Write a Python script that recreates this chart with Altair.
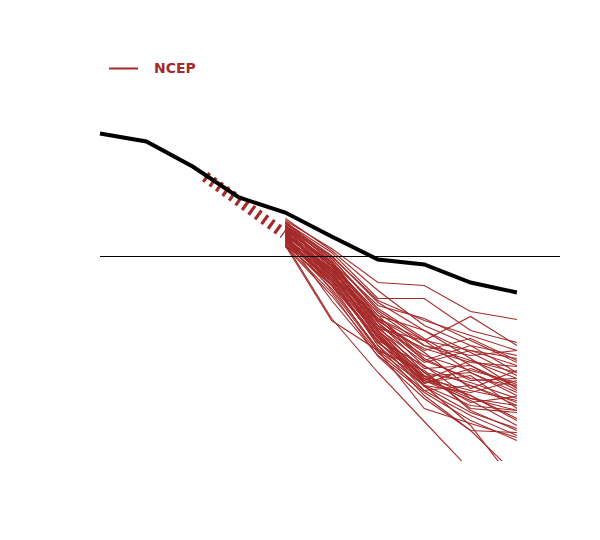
import altair as alt
import pandas as pd

# time steps (days)
obs_x = [0, 1, 2, 3, 4, 5, 6, 7, 8, 9]
obs_y = [12.3, 11.5, 9.0, 5.9, 4.4, 2.0, -0.3, -0.8, -2.6, -3.6]

# thick dashed hindcast segment
dash_x = [2.27, 3.97]
dash_y = [8.0, 2.3]

# ensemble forecast members (values at steps 4..9)
member_x = [4, 5, 6, 7, 8, 9]
members = [
    [3.6, 0.8, -2.6, -2.9, -5.5, -6.3],
    [3.4, 0.4, -4.2, -4.2, -7.4, -8.6],
    [3.1, 0.0, -4.4, -6.4, -7.9, -9.4],
    [3.8, 0.6, -3.4, -6.9, -8.9, -9.9],
    [2.6, -0.6, -4.9, -6.2, -8.4, -10.6],
    [3.0, -0.2, -5.4, -8.4, -6.0, -8.9],
    [2.4, -0.9, -5.9, -7.4, -9.6, -11.9],
    [2.1, -1.4, -6.2, -8.9, -10.4, -12.2],
    [2.8, -0.6, -6.4, -9.4, -8.2, -10.4],
    [1.8, -1.6, -6.9, -9.9, -11.4, -12.6],
    [1.6, -1.2, -6.6, -10.4, -12.2, -12.9],
    [2.3, -1.9, -7.4, -11.2, -10.9, -13.4],
    [3.2, -1.0, -7.2, -8.4, -11.6, -13.9],
    [1.4, -2.4, -7.9, -11.6, -12.6, -14.2],
    [2.0, -2.0, -7.6, -12.4, -10.4, -11.6],
    [2.7, -1.4, -8.2, -12.2, -13.4, -14.4],
    [1.2, -2.9, -8.4, -10.9, -14.2, -14.9],
    [2.5, -1.6, -7.9, -12.6, -11.9, -15.2],
    [1.8, -2.2, -8.9, -12.9, -14.9, -15.4],
    [2.9, -1.2, -7.4, -11.9, -13.9, -16.2],
    [1.5, -2.6, -8.6, -12.4, -14.4, -16.9],
    [2.2, -3.4, -9.4, -11.4, -15.4, -17.4],
    [1.0, -3.9, -9.6, -13.4, -15.9, -17.9],
    [3.4, -0.6, -6.9, -9.2, -10.6, -11.0],
    [1.9, -4.4, -9.9, -13.6, -16.4, -18.4],
    [1.3, -6.2, -11.6, -16.5, -21.4, -26.4],
    [1.1, -6.4, -9.4, -15.2, -16.7, -18.1],
    [2.6, -2.2, -8.9, -13.9, -17.4, -21.9],
    [2.0, -2.9, -9.4, -12.9, -16.9, -22.9],
    [2.4, -1.4, -6.4, -9.6, -13.2, -11.4],
    [3.0, -0.8, -5.6, -8.9, -9.9, -9.4],
    [1.6, -1.9, -6.2, -8.4, -9.4, -10.2],
    [2.1, -1.2, -7.2, -10.6, -9.4, -10.9],
    [2.7, -0.6, -5.9, -10.2, -12.4, -12.2],
    [1.2, -2.8, -8.1, -12.0, -11.6, -13.6],
    [2.3, -1.8, -7.6, -12.9, -13.6, -12.4],
    [3.5, -0.2, -5.2, -8.2, -10.9, -13.1],
    [1.7, -2.4, -8.4, -13.4, -12.9, -14.6],
    [2.9, -1.0, -7.0, -11.6, -15.2, -15.6],
    [1.4, -3.2, -9.2, -12.4, -13.9, -16.4],
    [2.5, -2.0, -8.0, -13.0, -15.6, -17.2],
    [1.9, -2.6, -8.6, -12.0, -14.6, -14.0],
    [3.1, -0.4, -6.2, -10.4, -8.9, -11.6],
    [1.5, -2.2, -7.8, -12.7, -11.2, -12.8],
    [2.2, -1.6, -7.4, -12.2, -14.2, -15.4],
    [2.8, -0.9, -6.6, -11.0, -12.9, -14.9],
    [1.1, -3.6, -10.0, -14.2, -17.4, -17.6],
    [3.3, 0.1, -4.6, -7.4, -10.2, -13.2],
]

RED = "#a52a2a"

obs_df = pd.DataFrame({"x": obs_x, "y": obs_y})
dash_df = pd.DataFrame({"x": dash_x, "y": dash_y})
rows = []
for k, vals in enumerate(members):
    for xv, yv in zip(member_x, vals):
        rows.append({"member": k, "x": xv, "y": yv, "model": "NCEP"})
ens_df = pd.DataFrame(rows)
zero_df = pd.DataFrame({"y": [0]})

xs = alt.Scale(domain=[0, 9.93])
ys = alt.Scale(domain=[-20.45, 20.45])

dashed = alt.Chart(dash_df).mark_line(
    color=RED, strokeWidth=11, strokeDash=[3.2, 4.8], strokeCap="butt"
).encode(
    x=alt.X("x:Q", scale=xs, axis=None),
    y=alt.Y("y:Q", scale=ys, axis=None),
)

ens = alt.Chart(ens_df).mark_line(strokeWidth=1.1, opacity=1, clip=True).encode(
    x=alt.X("x:Q", scale=xs, axis=None),
    y=alt.Y("y:Q", scale=ys, axis=None),
    detail="member:N",
    color=alt.Color(
        "model:N",
        scale=alt.Scale(domain=["NCEP"], range=[RED]),
        legend=alt.Legend(
            title=None,
            orient="none",
            legendX=8,
            legendY=1,
            padding=0,
            symbolType="stroke",
            symbolSize=841,
            symbolStrokeWidth=2,
            labelColor=RED,
            labelFontWeight="bold",
            labelFontSize=14,
            labelFont="DejaVu Sans",
            labelOffset=15,
        ),
    ),
)

zero = alt.Chart(zero_df).mark_rule(color="black", strokeWidth=1).encode(
    y=alt.Y("y:Q", scale=ys, axis=None)
)

obs = alt.Chart(obs_df).mark_line(color="black", strokeWidth=4).encode(
    x=alt.X("x:Q", scale=xs, axis=None),
    y=alt.Y("y:Q", scale=ys, axis=None),
)

chart = (
    alt.layer(dashed, ens, zero, obs)
    .properties(
        width=460,
        height=409,
        padding={"left": 92, "top": 44, "right": 0, "bottom": 0},
        autosize=alt.AutoSizeParams(type="none"),
    )
    .configure_view(stroke=None)
)

chart.save("out.html", embed_options={"renderer": "svg", "actions": False})
